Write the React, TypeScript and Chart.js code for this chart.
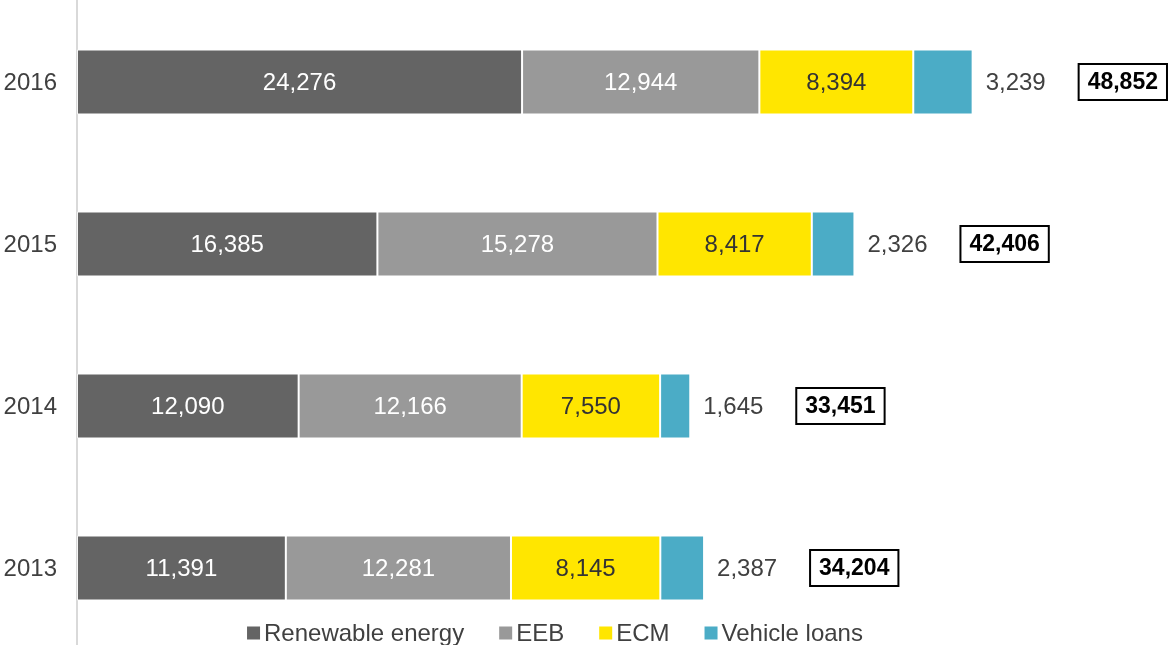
import React, { useEffect, useRef } from "react";
import { Chart, registerables } from "chart.js";

Chart.register(...registerables);

const years = ["2016", "2015", "2014", "2013"];
const renewableEnergy = [24276, 16385, 12090, 11391];
const eeb = [12944, 15278, 12166, 12281];
const ecm = [8394, 8417, 7550, 8145];
const vehicleLoans = [3239, 2326, 1645, 2387];
const totals = ["48,852", "42,406", "33,451", "34,204"];

const seriesNames = ["Renewable energy", "EEB", "ECM", "Vehicle loans"];
const seriesColors = ["#646464", "#999999", "#FFE600", "#4BACC6"];
const labelColors = ["#ffffff", "#ffffff", "#333333", "#404040"];

const FONT = "'Liberation Sans', Arial, sans-serif";

const fmt = (v: number) => v.toLocaleString("en-US");

const labelPlugin = {
  id: "customLabels",
  afterDatasetsDraw(chart: any) {
    const ctx = chart.ctx;
    ctx.save();
    ctx.textBaseline = "middle";
    // category labels
    const yScale = chart.scales.y;
    ctx.font = `24px ${FONT}`;
    ctx.fillStyle = "#404040";
    ctx.textAlign = "right";
    chart.data.labels.forEach((l: string, i: number) => {
      ctx.fillText(l, yScale.right - 20, yScale.getPixelForValue(i) + 1);
    });
    chart.data.datasets.forEach((ds: any, di: number) => {
      const meta = chart.getDatasetMeta(di);
      meta.data.forEach((bar: any, i: number) => {
        const v = ds.data[i];
        if (di < 3) {
          ctx.font = `24px ${FONT}`;
          ctx.fillStyle = labelColors[di];
          ctx.textAlign = "center";
          ctx.fillText(fmt(v), (bar.x + bar.base) / 2, bar.y + 1);
        } else {
          ctx.font = `24px ${FONT}`;
          ctx.fillStyle = labelColors[di];
          ctx.textAlign = "left";
          ctx.fillText(fmt(v), bar.x + 13, bar.y + 1);
          // total box
          ctx.font = `bold 23px ${FONT}`;
          const t = totals[i];
          const w = ctx.measureText(t).width + 18;
          const h = 36;
          const left = bar.x + 106;
          ctx.fillStyle = "#ffffff";
          ctx.fillRect(left, bar.y - h / 2, w, h);
          ctx.lineWidth = 2;
          ctx.strokeStyle = "#000000";
          ctx.strokeRect(left, bar.y - h / 2, w, h);
          ctx.fillStyle = "#000000";
          ctx.textAlign = "center";
          ctx.fillText(t, left + w / 2, bar.y + 1);
        }
      });
    });
    ctx.restore();
  },
  afterDraw(chart: any) {
    const ctx = chart.ctx;
    ctx.save();
    ctx.font = `24px ${FONT}`;
    ctx.textBaseline = "middle";
    ctx.textAlign = "left";
    const sq = 13;
    const gapSq = 4;
    const gapItem = 35;
    const widths = seriesNames.map((n) => sq + gapSq + ctx.measureText(n).width);
    const total = widths.reduce((a, b) => a + b, 0) + gapItem * (seriesNames.length - 1);
    let x = 555 - total / 2;
    const y = 633;
    seriesNames.forEach((n, i) => {
      ctx.fillStyle = seriesColors[i];
      ctx.fillRect(x, y - sq / 2, sq, sq);
      ctx.fillStyle = "#404040";
      ctx.fillText(n, x + sq + gapSq, y + 1);
      x += widths[i] + gapItem;
    });
    ctx.restore();
  },
};

export default function App() {
  const ref = useRef<HTMLCanvasElement | null>(null);
  useEffect(() => {
    if (!ref.current) return;
    const datasets = [renewableEnergy, eeb, ecm, vehicleLoans].map((d, i) => ({
      label: seriesNames[i],
      data: d,
      backgroundColor: seriesColors[i],
      borderColor: "rgba(255,255,255,0.7)",
      borderWidth: 1,
      borderSkipped: false,
      barPercentage: 0.4,
      categoryPercentage: 1,
    }));
    const chart = new Chart(ref.current, {
      type: "bar",
      data: { labels: years, datasets },
      options: {
        indexAxis: "y",
        responsive: false,
        animation: false,
        devicePixelRatio: 1,
        layout: { padding: { top: 1, bottom: 1, left: 0, right: 0 } },
        plugins: { legend: { display: false }, tooltip: { enabled: false } },
        scales: {
          x: { stacked: true, display: false, min: 0, max: 60000 },
          y: {
            stacked: true,
            grid: { display: false, drawTicks: false },
            border: { display: true, color: "#d9d9d9", width: 2 },
            ticks: { display: false },
            afterFit: (scale: any) => {
              scale.width = 77;
            },
          },
        },
      },
      plugins: [labelPlugin],
    });
    return () => chart.destroy();
  }, []);
  return (
    <div style={{ position: "fixed", left: 0, top: 0, width: 1175, height: 645, overflow: "hidden", background: "#fff" }}>
      <canvas ref={ref} width={1177} height={650} style={{ width: 1177, height: 650, display: "block" }} />
    </div>
  );
}
